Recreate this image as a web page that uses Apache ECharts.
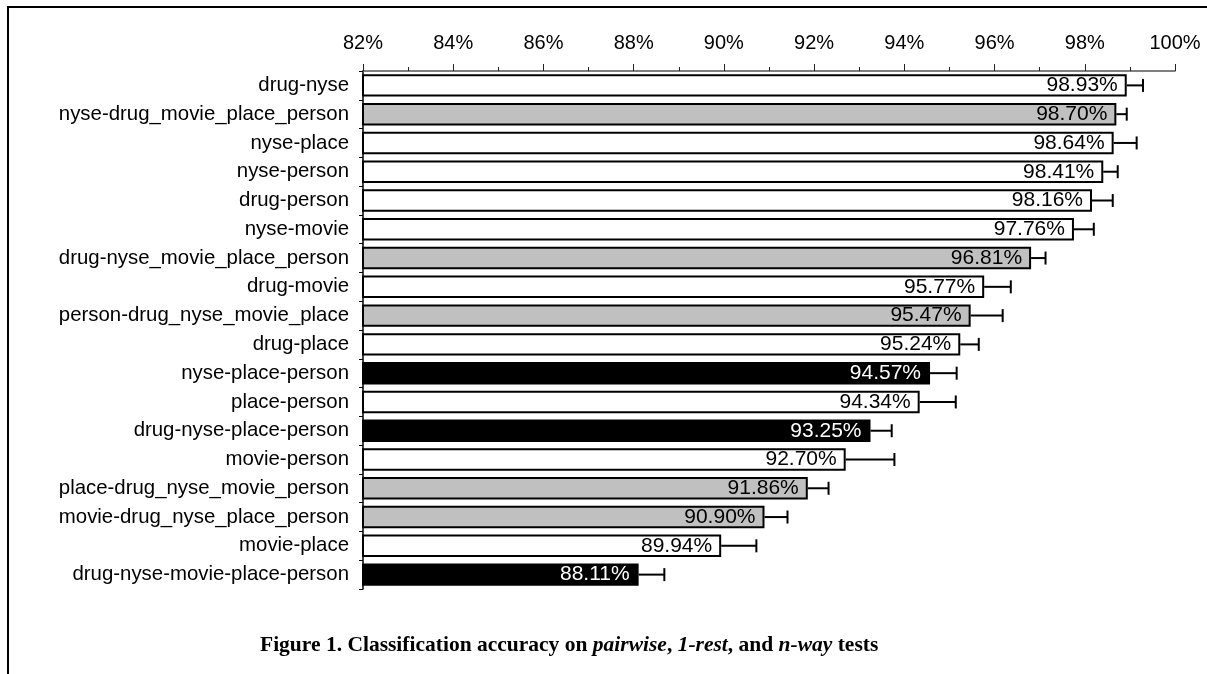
<!DOCTYPE html>
<html>
<head>
<meta charset="utf-8">
<script src="https://cdn.jsdelivr.net/npm/echarts@6/dist/echarts.min.js"></script>
<style>
  html, body { margin: 0; padding: 0; background: #fff; }
  #chart { width: 1207px; height: 674px; }
</style>
</head>
<body>
<div id="chart"></div>
<script>
// Test sets, top to bottom
const categories = [
  'drug-nyse',
  'nyse-drug_movie_place_person',
  'nyse-place',
  'nyse-person',
  'drug-person',
  'nyse-movie',
  'drug-nyse_movie_place_person',
  'drug-movie',
  'person-drug_nyse_movie_place',
  'drug-place',
  'nyse-place-person',
  'place-person',
  'drug-nyse-place-person',
  'movie-person',
  'place-drug_nyse_movie_person',
  'movie-drug_nyse_place_person',
  'movie-place',
  'drug-nyse-movie-place-person'
];

// Mean classification accuracy (%)
const accuracy = [98.93, 98.70, 98.64, 98.41, 98.16, 97.76, 96.81, 95.77, 95.47,
                  95.24, 94.57, 94.34, 93.25, 92.70, 91.86, 90.90, 89.94, 88.11];

// Upper error (percentage points)
const errors = [0.36, 0.23, 0.51, 0.32, 0.46, 0.44, 0.32, 0.59, 0.71,
                0.41, 0.59, 0.80, 0.47, 1.08, 0.46, 0.51, 0.78, 0.57];

// Test kind: pairwise, 1-rest, n-way
const testType = ['pairwise', '1-rest', 'pairwise', 'pairwise', 'pairwise', 'pairwise',
                  '1-rest', 'pairwise', '1-rest', 'pairwise', 'n-way', 'pairwise',
                  'n-way', 'pairwise', '1-rest', '1-rest', 'pairwise', 'n-way'];

const fillByType = { 'pairwise': '#ffffff', '1-rest': '#c0c0c0', 'n-way': '#000000' };
const textByType = { 'pairwise': '#000000', '1-rest': '#000000', 'n-way': '#ffffff' };

const FONT = 'Liberation Sans, Arial, sans-serif';
const SERIF = 'Liberation Serif, Times New Roman, serif';

const chart = echarts.init(document.getElementById('chart'), null, { renderer: 'canvas' });

const barData = accuracy.map((v, i) => ({
  value: v,
  itemStyle: { color: fillByType[testType[i]] },
  label: { color: textByType[testType[i]] }
}));

const errData = accuracy.map((v, i) => [v, i, errors[i]]);

chart.setOption({
  animation: false,
  backgroundColor: '#ffffff',
  grid: { left: 363, right: 32, top: 71, height: 518, containLabel: false },
  xAxis: {
    type: 'value',
    position: 'top',
    min: 82,
    max: 100,
    interval: 2,
    axisLine: { show: true, lineStyle: { color: '#555', width: 1.5 } },
    axisTick: { show: true, length: 7, lineStyle: { color: '#222', width: 1 } },
    minorTick: { show: true, splitNumber: 2, length: 4, lineStyle: { color: '#222', width: 1 } },
    splitLine: { show: false },
    axisLabel: {
      formatter: v => v + '%',
      fontFamily: FONT,
      fontSize: 20,
      color: '#000',
      margin: 18
    }
  },
  yAxis: {
    type: 'category',
    inverse: true,
    data: categories,
    axisLine: { show: true, lineStyle: { color: '#000', width: 1.5 } },
    axisTick: { show: true, length: 4, lineStyle: { color: '#000', width: 1 } },
    axisLabel: {
      fontFamily: FONT,
      fontSize: 20.4,
      color: '#000',
      margin: 14
    }
  },
  series: [
    {
      type: 'bar',
      data: barData,
      barWidth: '78%',
      itemStyle: { borderColor: '#000', borderWidth: 2 },
      label: {
        show: true,
        position: 'insideRight',
        distance: 9,
        fontFamily: FONT,
        fontSize: 21,
        formatter: p => p.value.toFixed(2) + '%'
      },
      z: 2
    },
    {
      type: 'custom',
      data: errData,
      encode: { x: 0, y: 1 },
      z: 3,
      renderItem: (params, api) => {
        const idx = api.value(1);
        const v = api.value(0);
        const e = api.value(2);
        const p0 = api.coord([v, idx]);
        const p1 = api.coord([v + e, idx]);
        const cap = 13;
        return {
          type: 'group',
          children: [
            { type: 'line', shape: { x1: p0[0], y1: p0[1], x2: p1[0], y2: p1[1] },
              style: { stroke: '#000', lineWidth: 2 } },
            { type: 'line', shape: { x1: p1[0], y1: p1[1] - cap / 2, x2: p1[0], y2: p1[1] + cap / 2 },
              style: { stroke: '#000', lineWidth: 2 } }
          ]
        };
      }
    }
  ],
  graphic: [
    // frame lines along the top and left edges
    { type: 'line', shape: { x1: 7, y1: 7, x2: 1207, y2: 7 }, style: { stroke: '#000', lineWidth: 2 } },
    { type: 'line', shape: { x1: 8, y1: 7, x2: 8, y2: 674 }, style: { stroke: '#000', lineWidth: 2 } },
    {
      type: 'text',
      left: 260,
      top: 634,
      style: {
        text: '{b|Figure 1. Classification accuracy on }{i|pairwise}{b|, }{i|1-rest}{b|, and }{i|n-way}{b| tests}',
        rich: {
          b: { fontFamily: SERIF, fontWeight: 'bold', fontSize: 21.5, fill: '#000' },
          i: { fontFamily: SERIF, fontWeight: 'bold', fontStyle: 'italic', fontSize: 21.5, fill: '#000' }
        }
      }
    }
  ]
});
</script>
</body>
</html>
